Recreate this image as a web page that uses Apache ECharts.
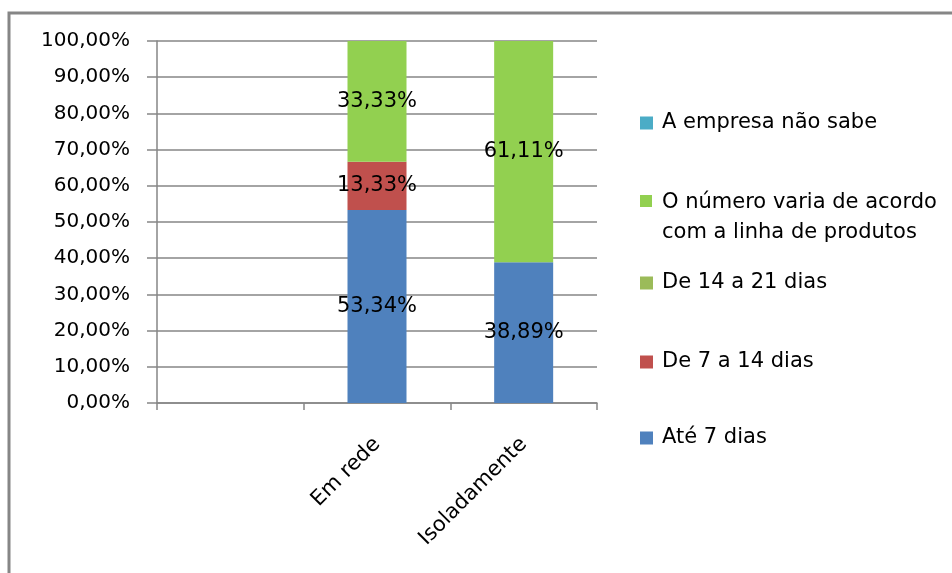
<!DOCTYPE html>
<html>
<head>
<meta charset="utf-8">
<style>
  html, body { margin: 0; padding: 0; background: #fff; }
  #chart { width: 952px; height: 573px; }
</style>
<script src="https://cdn.jsdelivr.net/npm/echarts@6/dist/echarts.min.js"></script>
</head>
<body>
<div id="chart"></div>
<script>
// Categories (the first slot is left empty)
const categories = ['', 'Em rede', 'Isoladamente'];

// Shares per answer, in percent
const ate7dias     = [null, 53.34, 38.89];
const de7a14dias   = [null, 13.33, 0];
const de14a21dias  = [null, 0, 0];
const variaLinha   = [null, 33.33, 61.11];
const naoSabe      = [null, 0, 0];

const seriesNames = [
  'Até 7 dias',
  'De 7 a 14 dias',
  'De 14 a 21 dias',
  'O número varia de acordo com a linha de produtos',
  'A empresa não sabe'
];
const seriesData = [ate7dias, de7a14dias, de14a21dias, variaLinha, naoSabe];
const seriesColors = ['#4F81BD', '#C0504D', '#9BBB59', '#92D050', '#4BACC6'];

// y-axis ticks
const yMin = 0, yMax = 100, yStep = 10;

const FONT = 'DejaVu Sans';
const GRAY = '#868686';

function pct(v) {
  return v.toFixed(2).replace('.', ',') + '%';
}

const series = seriesNames.map((name, i) => ({
  name: name,
  type: 'bar',
  stack: 'total',
  barWidth: 59,
  data: seriesData[i],
  itemStyle: { color: seriesColors[i] },
  label: {
    show: true,
    position: 'inside',
    color: '#000',
    fontFamily: FONT,
    fontSize: 21,
    textBorderWidth: 0,
    formatter: p => (p.value ? pct(p.value) : '')
  },
  emphasis: { disabled: true }
}));

// One legend block per entry so each sits at its own height
function legendBlock(name, top, extra) {
  return Object.assign({
    data: [name],
    left: 640,
    top: top,
    padding: 0,
    orient: 'vertical',
    itemWidth: 13,
    itemHeight: 13,
    itemGap: 0,
    selectedMode: false,
    icon: 'rect',
    textStyle: { color: '#000', fontFamily: FONT, fontSize: 21, lineHeight: 24, padding: [0, 0, 0, 4] }
  }, extra || {});
}

const legends = [
  legendBlock(seriesNames[4], 111),
  legendBlock(seriesNames[3], 188, {
    itemHeight: 46,
    itemWidth: 12,
    icon: 'path://M0,0L12,0L12,12L0,12Z M0,46L12,46',
    formatter: () => 'O número varia de acordo\ncom a linha de produtos',
    textStyle: { color: '#000', fontFamily: FONT, fontSize: 21, lineHeight: 30, padding: [0, 0, 0, 5] }
  }),
  legendBlock(seriesNames[2], 271),
  legendBlock(seriesNames[1], 350),
  legendBlock(seriesNames[0], 426)
];

const chart = echarts.init(document.getElementById('chart'), null, { renderer: 'canvas' });
chart.setOption({
  animation: false,
  backgroundColor: '#fff',
  grid: { left: 157, right: 355, top: 41, bottom: 170, containLabel: false },
  legend: legends,
  xAxis: {
    type: 'category',
    data: categories,
    boundaryGap: true,
    axisLine: { lineStyle: { color: GRAY, width: 1.5 } },
    axisTick: { show: true, length: 7, alignWithLabel: false, lineStyle: { color: GRAY, width: 1.5 } },
    axisLabel: {
      rotate: 45,
      interval: 0,
      margin: 38,
      color: '#000',
      fontFamily: FONT,
      fontSize: 21
    },
    splitLine: { show: false }
  },
  yAxis: {
    type: 'value',
    min: yMin,
    max: yMax,
    interval: yStep,
    axisLine: { show: true, lineStyle: { color: GRAY, width: 1.5 } },
    axisTick: { show: true, length: 10, inside: false, lineStyle: { color: GRAY, width: 1.5 } },
    axisLabel: {
      margin: 27,
      color: '#000',
      fontFamily: FONT,
      fontSize: 20,
      formatter: v => pct(v)
    },
    splitLine: { show: true, lineStyle: { color: GRAY, width: 1.5 } }
  },
  series: series,
  graphic: [{
    type: 'rect',
    silent: true,
    z: 100,
    shape: { x: 9, y: 13, width: 1000, height: 700 },
    style: { fill: null, stroke: GRAY, lineWidth: 3 }
  }]
});
</script>
</body>
</html>
